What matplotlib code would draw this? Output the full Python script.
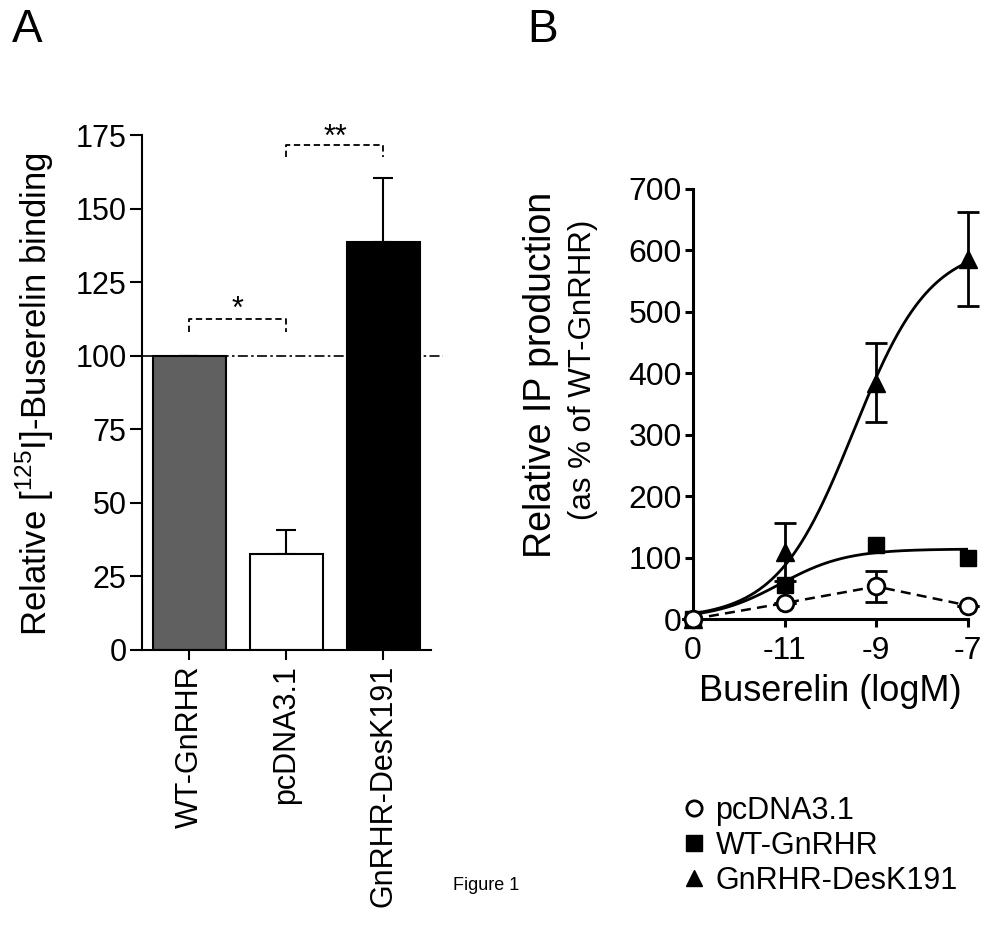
import numpy as np
import matplotlib
matplotlib.use("Agg")
import matplotlib.pyplot as plt
from matplotlib.lines import Line2D

plt.rcParams['font.family'] = ['Liberation Sans', 'DejaVu Sans']
plt.rcParams['mathtext.fontset'] = 'custom'
plt.rcParams['mathtext.rm'] = 'Liberation Sans'

# Panel A data
groups = ["WT-GnRHR", "pcDNA3.1", "GnRHR-DesK191"]
binding = [100, 32.6, 138.6]
binding_err = [0, 8.2, 21.8]
bar_colors = ["#606060", "white", "black"]

# Panel B data (x = log M, 0 dose plotted at -13)
dose_pos = [-13, -11, -9, -7]
dose_labels = ["0", "-11", "-9", "-7"]
ip_pcdna = [0, 26, 53, 22]
ip_pcdna_err = [0, 0, 25, 0]
ip_wt = [0, 55, 120, 100]
ip_desk = [0, 109, 385, 586]
ip_desk_err = [0, 47, 65, 77]

# sigmoid fit parameters (bottom, top, logEC50, hill)
fit_wt = (0, 114, -11.1, 0.6)
fit_desk = (0, 610, -9.5, 0.52)


def sigmoid(x, p):
    b, t, ec, h = p
    return b + (t - b) / (1 + 10 ** ((ec - x) * h))


fig = plt.figure(figsize=(10.04, 9.26), dpi=100)

# ---------------- Panel A ----------------
axA = fig.add_axes([0.1414, 0.2981, 0.2879, 0.5561])
xs = np.arange(len(groups))
axA.bar(xs, binding, width=0.76, color=bar_colors, edgecolor="black", linewidth=1.5, zorder=2)
axA.errorbar(xs, binding, yerr=[[0, 0, 0], binding_err], fmt="none", ecolor="black",
             elinewidth=1.5, capsize=7, capthick=1.5, zorder=1)
axA.plot([-0.49, 2.61], [100, 100], color="black", lw=1.2, ls=(0, (6, 2, 1.5, 2)),
         clip_on=False, zorder=3)
axA.set_xlim(-0.49, 2.49)
axA.set_ylim(0, 175)
axA.set_yticks(np.arange(0, 176, 25))
axA.set_xticks(xs)
axA.set_xticklabels(groups, rotation=90)
for s in ["top", "right"]:
    axA.spines[s].set_visible(False)
for s in ["left", "bottom"]:
    axA.spines[s].set_linewidth(1.5)
axA.tick_params(axis="y", labelsize=22, length=9, width=1.5, pad=2)
axA.tick_params(axis="x", labelsize=22, length=7, width=1.5, pad=4)

# significance brackets
axA.plot([0, 0, 1, 1], [108, 112.5, 112.5, 108], color="black", lw=1.3, ls=(0, (3.5, 2)), clip_on=False)
axA.text(0.5, 110.6, "*", ha="center", va="bottom", fontsize=22)
axA.plot([1, 1, 2, 2], [167.5, 171.6, 171.6, 167.5], color="black", lw=1.3, ls=(0, (3.5, 2)), clip_on=False)
axA.text(1.5, 169, "**", ha="center", va="bottom", fontsize=22)

fig.text(35 / 1004, 1 - 394 / 926, "Relative [$^{125}$I]-Buserelin binding", rotation=90,
         ha="center", va="center", fontsize=25)

# ---------------- Panel B ----------------
axB = fig.add_axes([0.6902, 0.3315, 0.2739, 0.4644])
xf = np.linspace(-13, -7, 300)
axB.plot(xf, sigmoid(xf, fit_desk), color="black", lw=2, zorder=2)
axB.plot(xf, sigmoid(xf, fit_wt), color="black", lw=2, zorder=2)
axB.errorbar(dose_pos, ip_desk, yerr=ip_desk_err, fmt="^", color="black", ms=13,
             elinewidth=2, capsize=8, capthick=2, clip_on=False, zorder=3)
axB.plot(dose_pos, ip_wt, "s", color="black", ms=12, clip_on=False, zorder=4)
axB.errorbar(dose_pos, ip_pcdna, yerr=ip_pcdna_err, fmt="o", color="black", mfc="white",
             mec="black", mew=2, ms=12, ls=(0, (4, 2.5)), lw=1.8, elinewidth=2, capsize=8,
             capthick=2, clip_on=False, zorder=5)
axB.set_xlim(-13, -7)
axB.set_ylim(0, 700)
axB.set_yticks(np.arange(0, 701, 100))
axB.set_xticks(dose_pos)
axB.set_xticklabels(dose_labels)
for s in ["top", "right"]:
    axB.spines[s].set_visible(False)
for s in ["left", "bottom"]:
    axB.spines[s].set_linewidth(2.2)
axB.tick_params(labelsize=23, length=6, width=2.2, pad=2)
axB.tick_params(axis="x", pad=6)
axB.set_xlabel("Buserelin (logM)", fontsize=26, labelpad=6)

fig.text(541 / 1004, 1 - 375 / 926, "Relative IP production", rotation=90,
         ha="center", va="center", fontsize=27)
fig.text(583 / 1004, 1 - 370 / 926, "(as % of WT-GnRHR)", rotation=90,
         ha="center", va="center", fontsize=22.5)

handles = [
    Line2D([], [], marker="o", ls="none", mfc="white", mec="black", mew=2, ms=11),
    Line2D([], [], marker="s", ls="none", color="black", ms=11),
    Line2D([], [], marker="^", ls="none", color="black", ms=12),
]
fig.legend(handles, ["pcDNA3.1", "WT-GnRHR", "GnRHR-DesK191"], loc="upper left",
           bbox_to_anchor=(0.667, 0.154), frameon=False, fontsize=22, handlelength=0.8,
           handletextpad=0.3, labelspacing=0.17, borderaxespad=0)

fig.text(12 / 1004, 1 - 30 / 926, "A", fontsize=33, va="center", ha="left")
fig.text(527 / 1004, 1 - 30 / 926, "B", fontsize=33, va="center", ha="left")
fig.text(486 / 1004, 1 - 885 / 926, "Figure 1", fontsize=13, ha="center", va="center")

fig.savefig("out.png", dpi=100)
